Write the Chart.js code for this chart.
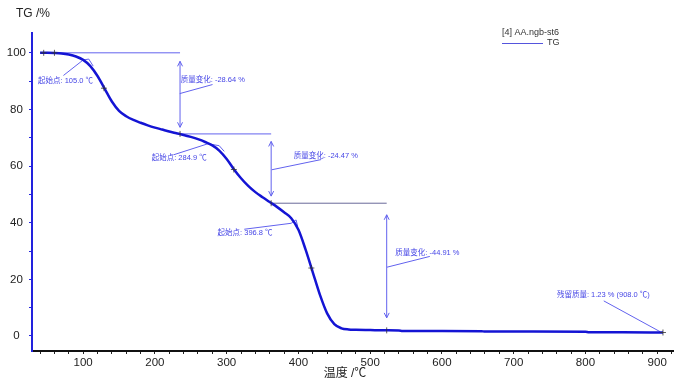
<!DOCTYPE html>
<html><head><meta charset="utf-8">
<script src="https://cdn.jsdelivr.net/npm/chart.js@4/dist/chart.umd.min.js"></script>
<style>html,body{margin:0;padding:0;background:#fff;} #wrap{width:675px;height:386px;position:relative;}</style>
</head><body><div id="wrap"><canvas id="c"></canvas></div>
<script>
// ---- data ----
const temperatures = [40,50,60,70,80,90,100,110,120,130,140,150,160,170,180,190,200,210,220,230,240,250,260,270,280,290,300,310,320,330,340,350,360,370,380,390,400,410,420,430,440,450,460,470,480,500,520,540,545,600,655,660,700,800,805,850,908];
const tgPercent    = [100,100,99.95,99.8,99.4,98.7,97.5,95.3,91.8,87.3,82.8,79.5,77.6,76.3,75.3,74.4,73.6,72.9,72.2,71.6,71.0,70.3,69.5,68.5,67.3,65.4,62.5,58.9,55.7,53.0,50.8,49.0,47.3,45.6,43.7,41.6,37.5,30.5,22.5,14.5,8.0,4.2,2.7,2.3,2.2,2.1,2.0,1.95,1.8,1.75,1.7,1.55,1.55,1.5,1.3,1.28,1.23];
const stepTemps   = [40, 235, 362, 523];
const stepLevels  = [100, 71.36, 46.89, 1.98];
const massChangeTexts = ['质量变化: -28.64 %', '质量变化: -24.47 %', '质量变化: -44.91 %'];
const onsetTexts = ['起始点: 105.0 ℃', '起始点: 284.9 ℃', '起始点: 396.8 ℃'];
const residueText = '残留质量: 1.23 % (908.0 ℃)';
const sampleName = '[4] AA.ngb-st6';
const seriesName = 'TG';
const xAxisTitle = '温度 /℃';
const yAxisTitle = 'TG /%';

// ---- annotation geometry (in data coordinates) ----
const arrowSpans = [[235, 97.0, 73.7], [362, 68.7, 49.4], [523, 42.8, 6.4]];
const massLabelAt = [[236, 90.6], [393.5, 63.7], [535, 29.5]];
const massLeaders = [[234.6, 85.6, 280.3, 88.8], [362.8, 58.7, 431.7, 62.3], [523.5, 24.3, 583.1, 28.1]];
const onsetLabelAt = [[37.1, 90.0], [195.5, 63.0], [287.3, 36.3]];
const onsetLeaders = [[72.5, 92.0, 98.6, 97.2], [226.2, 64.0, 274, 67.9], [324.5, 37.7, 389.8, 39.8]];
const onsetTangents = [[98.6, 97.4, 107.8, 97.8, 114, 95.3], [274, 67.9, 289.6, 67.2, 296.6, 65.2], [389.8, 39.8, 396.7, 41.0, 399, 38.7]];
const residueLabelAt = [760.2, 14.4];
const residueLeader = [825.5, 12.4, 904.2, 1.5];
const crossMarks = [[45, 100], [60, 100], [129, 87.5], [310, 58.8], [418, 24], [908, 1.23]];

const ANN = '#6262ee';
const ANN_TXT = '#4646e6';
const CJK = '"Liberation Sans", "Noto Sans CJK SC", sans-serif';

const annotPlugin = {
  id: 'annot',
  beforeDatasetsDraw(chart) {
    const ctx = chart.ctx, xs = chart.scales.x, ys = chart.scales.y;
    const X = v => xs.getPixelForValue(v), Y = v => ys.getPixelForValue(v);
    ctx.save();
    ctx.lineWidth = 1;
    ctx.strokeStyle = ANN;
    const line = (x1, y1, x2, y2) => { ctx.beginPath(); ctx.moveTo(X(x1), Y(y1)); ctx.lineTo(X(x2), Y(y2)); ctx.stroke(); };
    // step levels
    for (let i = 0; i < 3; i++) {
      ctx.strokeStyle = i === 2 ? '#6a6a9a' : ANN;
      line(stepTemps[i], stepLevels[i], stepTemps[i + 1], stepLevels[i]);
    }
    ctx.strokeStyle = ANN;
    // arrows
    arrowSpans.forEach(([x, a, b]) => {
      line(x, a, x, b);
      const px = X(x), pa = Y(a), pb = Y(b);
      ctx.beginPath(); ctx.moveTo(px - 2.5, pa + 5); ctx.lineTo(px, pa); ctx.lineTo(px + 2.5, pa + 5); ctx.stroke();
      ctx.beginPath(); ctx.moveTo(px - 2.5, pb - 5); ctx.lineTo(px, pb); ctx.lineTo(px + 2.5, pb - 5); ctx.stroke();
    });
    massLeaders.forEach(l => line(...l));
    onsetLeaders.forEach(l => line(...l));
    onsetTangents.forEach(t => { line(t[0], t[1], t[2], t[3]); line(t[2], t[3], t[4], t[5]); });
    line(...residueLeader);
    // texts
    ctx.fillStyle = ANN_TXT;
    ctx.font = '7.5px ' + CJK;
    ctx.textBaseline = 'middle';
    ctx.textAlign = 'left';
    massChangeTexts.forEach((t, i) => ctx.fillText(t, X(massLabelAt[i][0]), Y(massLabelAt[i][1])));
    onsetTexts.forEach((t, i) => ctx.fillText(t, X(onsetLabelAt[i][0]), Y(onsetLabelAt[i][1])));
    ctx.fillText(residueText, X(residueLabelAt[0]), Y(residueLabelAt[1]));
    ctx.restore();
  },
  afterDatasetsDraw(chart) {
    const ctx = chart.ctx, xs = chart.scales.x, ys = chart.scales.y;
    const X = v => xs.getPixelForValue(v), Y = v => ys.getPixelForValue(v);
    ctx.save();
    ctx.strokeStyle = '#333';
    ctx.lineWidth = 0.8;
    crossMarks.forEach(([x, y]) => {
      const px = X(x), py = Y(y);
      ctx.beginPath(); ctx.moveTo(px - 3, py); ctx.lineTo(px + 3, py); ctx.moveTo(px, py - 3); ctx.lineTo(px, py + 3); ctx.stroke();
    });
    for (let i = 1; i < 4; i++) {
      const px = X(stepTemps[i]), py = Y(stepLevels[i]);
      ctx.beginPath(); ctx.moveTo(px, py - 3); ctx.lineTo(px, py + 3); ctx.stroke();
    }
    // axis titles
    ctx.fillStyle = '#222';
    ctx.textBaseline = 'middle';
    ctx.textAlign = 'left';
    ctx.font = '12px ' + CJK;
    ctx.fillText(yAxisTitle, 16, 14);
    ctx.textAlign = 'center';
    ctx.fillText(xAxisTitle, 345, 374);
    // legend
    ctx.textAlign = 'left';
    ctx.font = '9px ' + CJK;
    ctx.fillStyle = '#333';
    ctx.fillText(sampleName, 502, 33);
    ctx.fillText(seriesName, 547, 43);
    ctx.strokeStyle = '#5555dd';
    ctx.lineWidth = 1;
    ctx.beginPath(); ctx.moveTo(502, 43.5); ctx.lineTo(543, 43.5); ctx.stroke();
    ctx.restore();
  }
};

const chart = new Chart(document.getElementById('c'), {
  type: 'line',
  data: {
    datasets: [{
      label: seriesName,
      data: temperatures.map((t, i) => ({ x: t, y: tgPercent[i] })),
      borderColor: '#1414d4',
      borderWidth: 2.5,
      pointRadius: 0,
      cubicInterpolationMode: 'monotone',
      fill: false
    }]
  },
  options: {
    responsive: true,
    maintainAspectRatio: false,
    animation: false,
    layout: { padding: { top: 33, right: 2, left: 0, bottom: 0 } },
    plugins: { legend: { display: false }, tooltip: { enabled: false } },
    scales: {
      x: {
        type: 'linear',
        min: 28.7,
        max: 922,
        afterFit: s => { s.height = 35; },
        border: { display: true, color: '#111', width: 2 },
        grid: { drawOnChartArea: false, drawTicks: true, tickLength: 3, color: '#222' },
        ticks: {
          stepSize: 20, includeBounds: false, autoSkip: false, maxRotation: 0, padding: 2,
          color: '#222', font: { family: 'Liberation Sans', size: 11.5 },
          callback: v => (v % 100 === 0 ? String(v) : '')
        }
      },
      y: {
        min: -5.3,
        max: 107,
        afterFit: s => { s.width = 32; },
        border: { display: true, color: '#2222dd', width: 2 },
        grid: { drawOnChartArea: false, drawTicks: true, tickLength: 3, color: '#2222dd' },
        ticks: {
          stepSize: 10, includeBounds: false, autoSkip: false, padding: 3, crossAlign: 'center',
          color: '#222', font: { family: 'Liberation Sans', size: 11.5 },
          callback: v => (v % 20 === 0 ? String(v) : '')
        }
      }
    }
  },
  plugins: [annotPlugin]
});
</script>
</body></html>
